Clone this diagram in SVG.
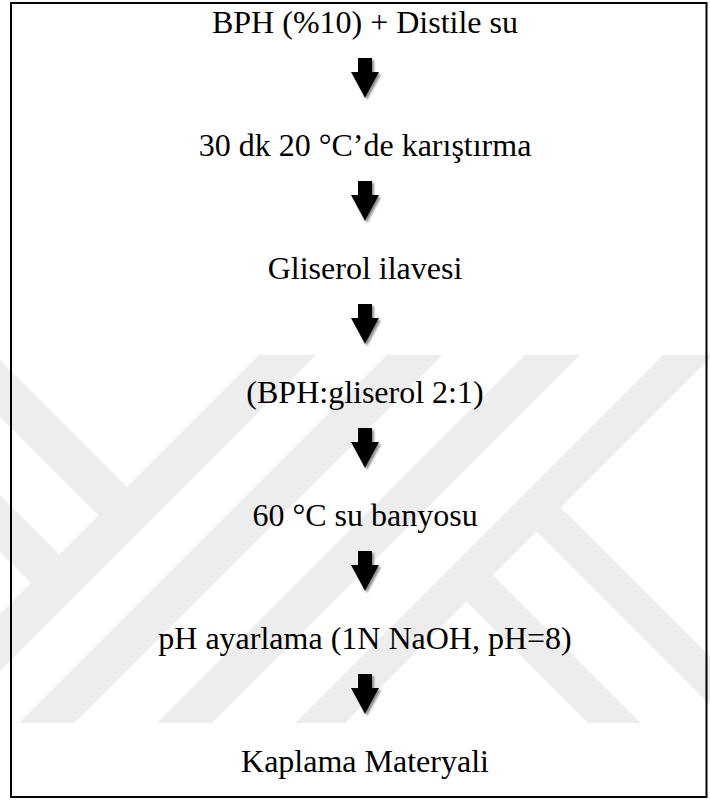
<svg xmlns="http://www.w3.org/2000/svg" xmlns:xlink="http://www.w3.org/1999/xlink" width="710" height="801" viewBox="0 0 710 801">
<defs>
<style>
.lbl{font-family:"Liberation Serif","Times New Roman",serif;font-size:32px;fill:#000;text-anchor:middle}
.wm{fill:#ededed}
.arr{fill:#000;filter:url(#sh)}
</style>
<filter id="sh" x="-50%" y="-30%" width="200%" height="170%">
<feDropShadow dx="2" dy="2" stdDeviation="1.2" flood-color="#6e6e6e" flood-opacity="0.8"/>
</filter>
<clipPath id="wmclip"><rect x="0" y="355" width="710" height="368"/></clipPath>
<path id="arrowShape" d="M-7,0 H7 V14 H14 L0,40 L-14,14 H-7 Z"/>
</defs>
<rect width="710" height="801" fill="#fff"/>
<g id="watermark" clip-path="url(#wmclip)">
<polygon class="wm" points="314,300 371,300 -129,800 -186,800"/>
<polygon class="wm" points="-50,310 140,500 111.5,528.5 -50,367"/>
<polygon class="wm" points="-50,445 72.5,567.5 44,596 -50,502"/>
<polygon class="wm" points="442,300 497,300 -3,800 -58,800"/>
<polygon class="wm" points="580,300 635,300 135,800 80,800"/>
<polygon class="wm" points="718,300 768,300 268,800 218,800"/>
<polygon class="wm" points="546.5,493.5 760,707 760,755 522.5,517.5"/>
<polygon class="wm" points="479,561 718,800 665,800 452.5,587.5"/>
</g>
<rect id="frame" x="11" y="3" width="695.5" height="794" fill="none" stroke="#000" stroke-width="2"/>
<g id="connectors">
<use xlink:href="#arrowShape" class="arr" x="365" y="58"/>
<use xlink:href="#arrowShape" class="arr" x="365" y="181"/>
<use xlink:href="#arrowShape" class="arr" x="365" y="304"/>
<use xlink:href="#arrowShape" class="arr" x="365" y="428"/>
<use xlink:href="#arrowShape" class="arr" x="365" y="551"/>
<use xlink:href="#arrowShape" class="arr" x="365" y="674"/>
</g>
<g id="n1"><text class="lbl" x="365" y="33">BPH (%10) + Distile su</text></g>
<g id="n2"><text class="lbl" x="365" y="156">30 dk 20 °C’de karıştırma</text></g>
<g id="n3"><text class="lbl" x="365" y="279">Gliserol ilavesi</text></g>
<g id="n4"><text class="lbl" x="365" y="403">(BPH:gliserol 2:1)</text></g>
<g id="n5"><text class="lbl" x="365" y="526">60 °C su banyosu</text></g>
<g id="n6"><text class="lbl" x="365" y="649">pH ayarlama (1N NaOH, pH=8)</text></g>
<g id="n7"><text class="lbl" x="365" y="772">Kaplama Materyali</text></g>
</svg>
